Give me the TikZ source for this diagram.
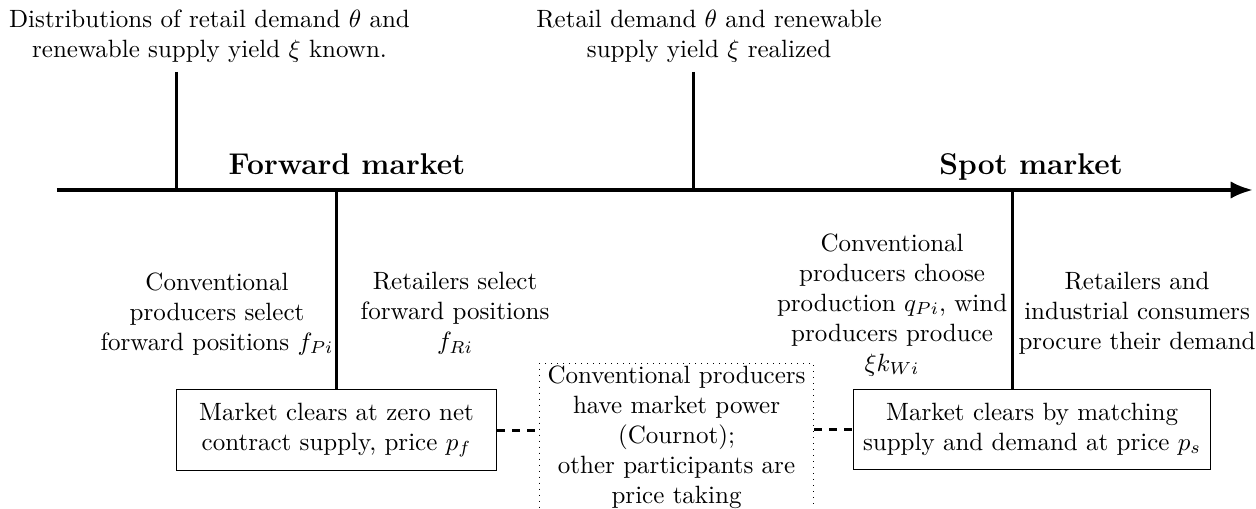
\documentclass[tikz,border=0pt]{standalone}
\usetikzlibrary{arrows.meta}
\begin{document}
\begin{tikzpicture}[
	event/.style={align=center,inner sep=0pt,anchor=north},
	phase/.style={font=\large\bfseries,anchor=base},
	clearbox/.style={draw,align=center,minimum height=32pt},
	notebox/.style={draw,dotted,align=center,inner xsep=3.33pt,inner ysep=1pt,anchor=north}]
	\useasboundingbox (0,0) rectangle (17.657,7.142);
	% time line
	\coordinate (start) at (0.80,4.471);
	\coordinate (end) at (17.616,4.471);
	\draw[ultra thick,-{Latex[length=9pt,width=7pt]}] (start) -- (end);
	\node[phase] (fwd) at (4.878,4.682) {Forward market};
	\node[phase] (spot) at (14.495,4.682) {Spot market};
	% above the line
	\node[event] (known) at (2.945,7.01) {Distributions of retail demand $\theta$ and\\ renewable supply yield $\xi$ known.};
	\node[event] (realized) at (9.968,7.01) {Retail demand $\theta$ and renewable\\ supply yield $\xi$ realized};
	\coordinate (knowntick) at (2.488,6.13);
	\coordinate (realtick) at (9.743,6.13);
	\draw[very thick] (knowntick) -- (knowntick |- start);
	\draw[very thick] (realtick) -- (realtick |- start);
	% below the line
	\node[event] (prodfwd) at (3.051,3.318) {Conventional\\ producers select\\ forward positions $f_{Pi}$};
	\node[event] (retfwd) at (6.397,3.318) {Retailers select\\ forward positions\\ $f_{Ri}$};
	\node[event] (prodspot) at (12.541,3.866) {Conventional\\ producers choose\\ production $q_{Pi}$, wind\\ producers produce\\ $\xi k_{Wi}$};
	\node[event] (retspot) at (15.985,3.318) {Retailers and\\ industrial consumers\\ procure their demand};
	\node[clearbox,minimum width=128pt] (fwdclear) at (4.731,1.097) {Market clears at zero net\\ contract supply, price $p_f$};
	\node[clearbox,minimum width=143pt] (spotclear) at (14.509,1.111) {Market clears by matching\\ supply and demand at price $p_s$};
	\node[notebox] (power) at (9.511,2.039) {Conventional producers\\ have market power\\ (Cournot);\\ other participants are\\ price taking};
	\coordinate (spottick) at (14.227,4.471);
	\draw[very thick] (fwdclear.north) -- (fwdclear.north |- start);
	\draw[very thick] (spottick) -- (spottick |- spotclear.north);
	\draw[very thick,dashed] (fwdclear.east) -- (fwdclear.east -| power.west);
	\draw[very thick,dashed] (power.east |- spotclear.west) -- (spotclear.west);
\end{tikzpicture}
\end{document}
